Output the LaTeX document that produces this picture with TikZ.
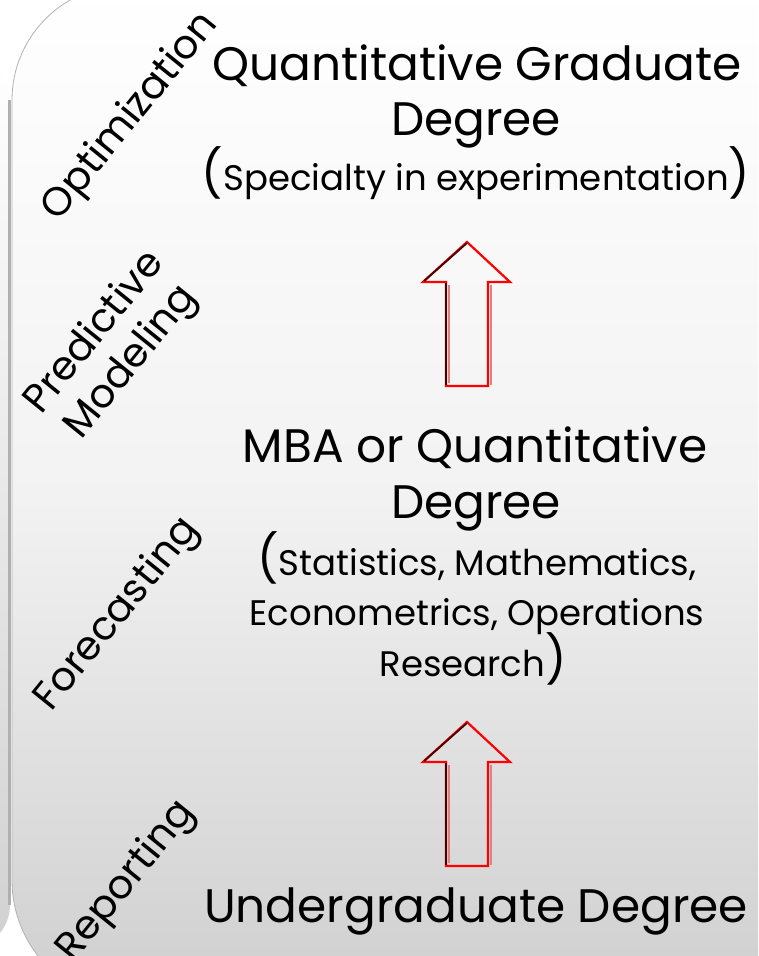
\documentclass[tikz,border=0pt]{standalone}
\usepackage{fontspec}
\setmainfont{Poppins}
\usetikzlibrary{calc}
\definecolor{arrred}{HTML}{FF0000}
\definecolor{arrdark}{HTML}{4A0000}
\definecolor{arrpink}{HTML}{E08080}
\definecolor{edgegray}{HTML}{B0B0B0}
\newcommand{\bigsz}{\fontsize{47}{52}\selectfont}
\tikzset{
  big/.style={font=\bigsz, anchor=base, inner sep=0pt},
  small/.style={font=\fontsize{35.5}{40}\selectfont, anchor=base, inner sep=0pt},
  side/.style={font=\fontsize{40}{47}\selectfont, rotate=51, align=center, inner sep=0pt},
}
\newcommand{\blockarrow}[2]{%
  \begin{scope}[shift={(#1,#2)}]
    \draw[arrred, line width=2.2pt, line join=miter]
      (0,0) -- (43,40) -- (21,40) -- (21,144) -- (-21,144) -- (-21,40) -- (-44,40) -- cycle;
    \draw[arrdark, line width=1.8pt] (-43,39) -- (0,1);
    \draw[arrdark, line width=1.8pt] (-21,41) -- (-21,143);
    \draw[arrpink, line width=1.4pt] (-18,43) -- (-18,141);
    \draw[arrpink, line width=1.4pt] (24,43) -- (24,143);
  \end{scope}}
\begin{document}
\begin{tikzpicture}[x=1pt,y=-1pt]
\useasboundingbox (0,0) rectangle (758,956);
\begin{scope}
  \clip (0,0) rectangle (758,956);
  % left back shape
  \shade[top color=white, bottom color=black!18]
    (-200,56) -- (-34,56) arc[start angle=-90, end angle=0, radius=44] -- (10,905)
    arc[start angle=0, end angle=90, radius=44] -- (-200,949) -- cycle;
  \fill[edgegray] (8,100) rectangle (11,905);
  % main shape
  \shade[top color=white, bottom color=black!19, middle color=black!5]
    (900,-15) -- (127,-15) arc[start angle=-90, end angle=-180, radius=115] -- (12,880)
    arc[start angle=180, end angle=90, radius=124] -- (900,1004) -- cycle;
  \draw[black!30, line width=0.8pt]
    (127,-15) arc[start angle=-90, end angle=-180, radius=115] -- (12,880)
    arc[start angle=180, end angle=90, radius=124];
\end{scope}
% arrows
\blockarrow{467}{242}
\blockarrow{467}{722}
% right column text
\node[big] (q1) at (477,80) {Quantitative Graduate};
\node[big] (q2) at (476,135) {Degree};
\node[small] (q3) at (476,190) {{\bigsz(}Specialty in experimentation{\bigsz)}};
\node[big] (m1) at (475,462) {MBA or Quantitative};
\node[big] (m2) at (476,518) {Degree};
\node[small] (m3) at (477,575) {{\bigsz(}Statistics, Mathematics,};
\node[small] (m4) at (477,625) {Econometrics, Operations};
\node[small] (m5) at (473,676) {Research{\bigsz)}};
\node[big] (u1) at (476,922) {Undergraduate Degree};
% rotated labels
\node[side] (l1) at (131,117) {Optimization};
\node[side] (l2) at (114,348) {Predictive\\Modeling};
\node[side] (l3) at (118,615) {Forecasting};
\node[side] (l4) at (127,882) {Reporting};
\end{tikzpicture}
\end{document}
